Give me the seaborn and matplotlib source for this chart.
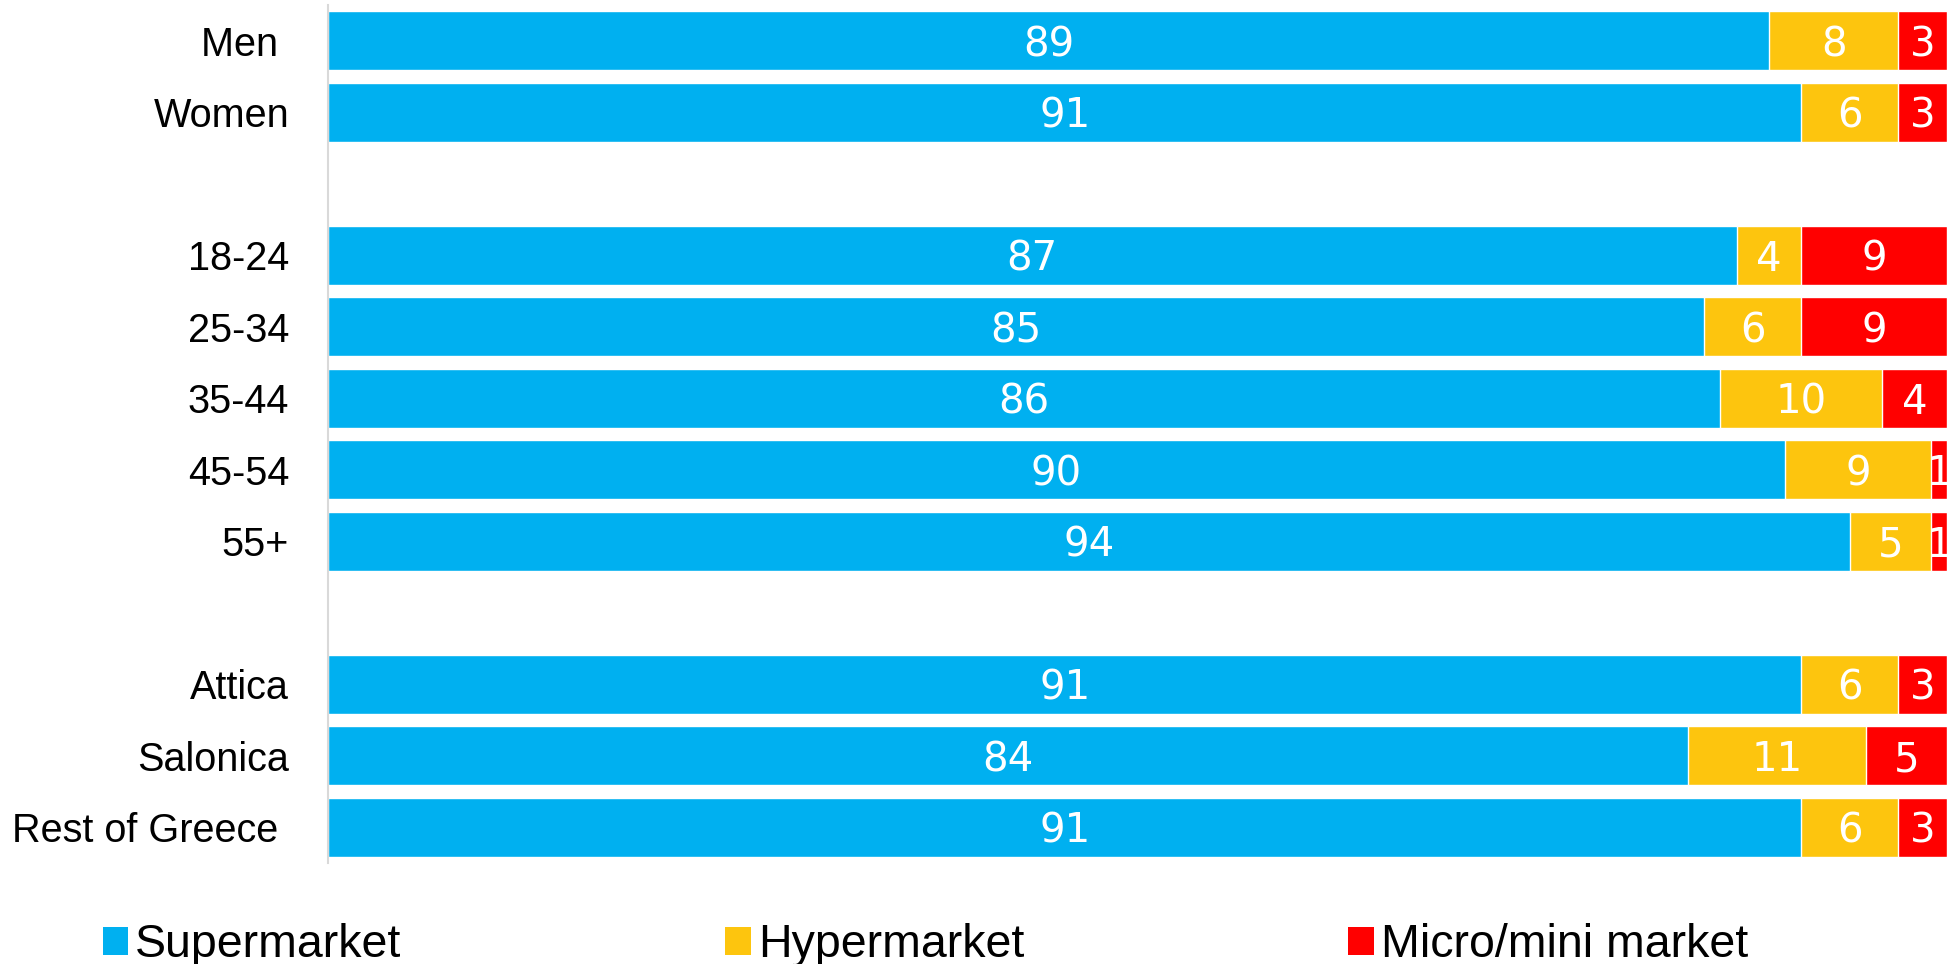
import matplotlib
matplotlib.use("Agg")
import matplotlib.pyplot as plt
from matplotlib.patches import Patch
import seaborn as sns
import pandas as pd

# Groups with spacer rows between the blocks (gender / age / region)
categories = ["Men ", "Women", "", "18-24", "25-34", "35-44", "45-54", "55+", " ",
              "Attica", "Salonica", "Rest of Greece "]
supermarket = [89, 91, None, 87, 85, 86, 90, 94, None, 91, 84, 91]
hypermarket = [8, 6, None, 4, 6, 10, 9, 5, None, 6, 11, 6]
micro_market = [3, 3, None, 9, 9, 4, 1, 1, None, 3, 5, 3]

series_names = ["Supermarket", "Hypermarket", "Micro/mini market"]
series_colors = ["#00B0F0", "#FDC50E", "#FF0000"]

df = pd.DataFrame({
    "group": categories,
    "Supermarket": [v or 0 for v in supermarket],
    "Hypermarket": [v or 0 for v in hypermarket],
    "Micro/mini market": [v or 0 for v in micro_market],
})
df["cum1"] = df["Supermarket"]
df["cum2"] = df["cum1"] + df["Hypermarket"]
df["cum3"] = df["cum2"] + df["Micro/mini market"]

sns.set_style("white")
plt.rcParams["font.family"] = ["Liberation Sans", "DejaVu Sans"]
plt.rcParams["text.color"] = "black"
plt.rcParams["ytick.color"] = "black"

W, H = 1947, 964
fig = plt.figure(figsize=(W / 100, H / 100), dpi=100)
ax = fig.add_axes([328 / W, 1 - 863 / H, 1 - 328 / W, 858 / H])

# Stacked bars drawn as overlapping cumulative totals
for col, color in zip(["cum3", "cum2", "cum1"], series_colors[::-1]):
    sns.barplot(data=df, x=col, y="group", order=categories, orient="h",
                color=color, saturation=1, width=0.83, errorbar=None, ax=ax)

# Segment value labels
for i, cat in enumerate(categories):
    left = 0
    for vals in (supermarket, hypermarket, micro_market):
        v = vals[i]
        if v is None:
            continue
        ax.text(left + v / 2, i, str(v), ha="center", va="center_baseline",
                color="white", fontsize=29, family="DejaVu Sans",
                clip_on=False)
        left += v

ax.set_xlim(0, 100)
ax.set_ylim(11.5, -0.5)
ax.set_xlabel("")
ax.set_ylabel("")
ax.set_xticks([])
ax.tick_params(axis="y", length=0, pad=28, labelsize=28.5, labelcolor="black")
for s in ("top", "right", "bottom"):
    ax.spines[s].set_visible(False)
ax.spines["left"].set_color("#d9d9d9")
ax.spines["left"].set_linewidth(1.5)

handles = [Patch(facecolor=c, edgecolor="none") for c in series_colors]
fig.legend(handles, series_names, loc="center left",
           bbox_to_anchor=(102.5 / W, 1 - 945 / H), ncol=3, frameon=False,
           fontsize=33.5, handlelength=0.55, handleheight=0.55,
           handletextpad=0.15, columnspacing=6.96, borderpad=0,
           borderaxespad=0)

fig.savefig("out.png", dpi=100)
